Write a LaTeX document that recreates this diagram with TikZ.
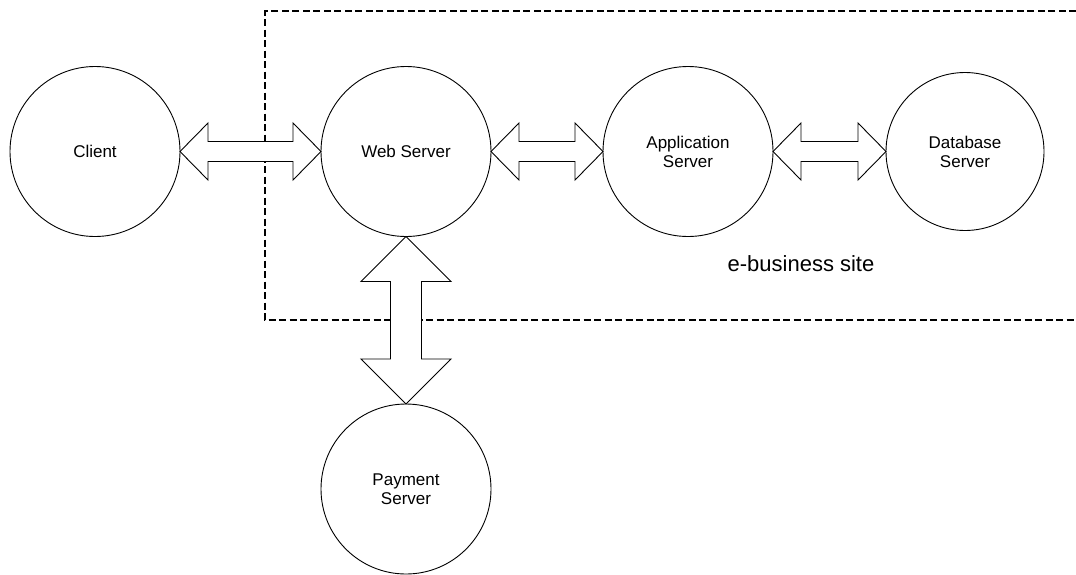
\documentclass[tikz,border=0pt]{standalone}
\usepackage{fontspec}
\setmainfont{Liberation Sans}
\usetikzlibrary{calc}

% horizontal double-headed block arrow between two anchors
% #1 left tip, #2 right tip, #3 head length, #4 head half-width, #5 shaft half-width
\newcommand{\hblockarrow}[5]{%
  \draw[blockarrow] let \p1=(#1), \p2=(#2) in
    (\x1,\y1) -- (\x1+#3,\y1+#4) -- (\x1+#3,\y1+#5) -- (\x2-#3,\y1+#5)
    -- (\x2-#3,\y1+#4) -- (\x2,\y2) -- (\x2-#3,\y1-#4) -- (\x2-#3,\y1-#5)
    -- (\x1+#3,\y1-#5) -- (\x1+#3,\y1-#4) -- cycle;}
% vertical double-headed block arrow, #1 upper tip, #2 lower tip
\newcommand{\vblockarrow}[5]{%
  \draw[blockarrow] let \p1=(#1), \p2=(#2) in
    (\x1,\y1) -- (\x1+#4,\y1-#3) -- (\x1+#5,\y1-#3) -- (\x1+#5,\y2+#3)
    -- (\x1+#4,\y2+#3) -- (\x2,\y2) -- (\x1-#4,\y2+#3) -- (\x1-#5,\y2+#3)
    -- (\x1-#5,\y1-#3) -- (\x1-#4,\y1-#3) -- cycle;}

\begin{document}
\begin{tikzpicture}[x=1pt,y=-1pt,
  server/.style={circle,draw,line width=0.9pt,fill=white,inner sep=0pt,outer sep=0pt,
    minimum size=170pt,align=center,font=\fontsize{17}{19}\selectfont},
  blockarrow/.style={draw,fill=white,line width=0.9pt,line join=miter},
  sitebox/.style={line width=2.6pt,dash pattern=on 7pt off 3.5pt}]
\useasboundingbox (0,0) rectangle (1076,574);

% e-business site boundary (open on the right)
\coordinate (boxtr) at (1076,11);
\coordinate (boxbr) at (1076,320);
\draw[sitebox] (boxtr) -- (265,11) -- (265,320) -- (boxbr);
\node[anchor=base,font=\fontsize{22}{26}\selectfont] (sitelabel) at (801,271) {e-business site};

% servers
\node[server] (client) at (95,151.5) {Client};
\node[server] (web) at (406,151.5) {Web Server};
\node[server] (app) at (688,151.5) {Application\\Server};
\node[server,minimum size=158pt] (db) at (965,151.5) {Database\\Server};
\node[server] (pay) at (406,489) {Payment\\Server};

% connections
\hblockarrow{client.east}{web.west}{28pt}{28.5pt}{10pt}
\hblockarrow{web.east}{app.west}{28pt}{28.5pt}{10pt}
\hblockarrow{app.east}{db.west}{28pt}{28.5pt}{10pt}
\vblockarrow{web.south}{pay.north}{45pt}{45pt}{15.5pt}
\end{tikzpicture}
\end{document}
